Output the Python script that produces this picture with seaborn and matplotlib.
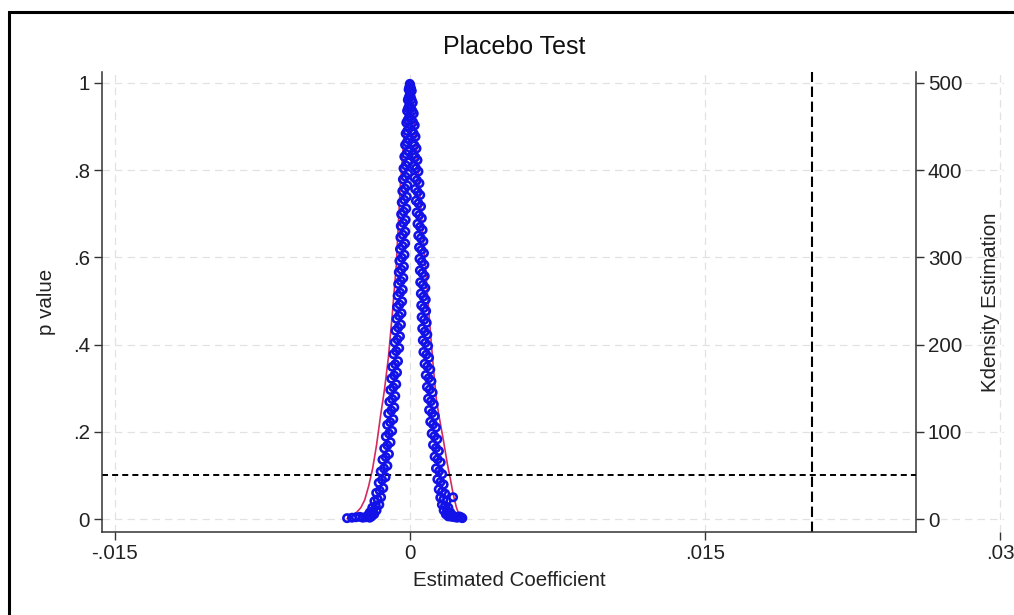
import matplotlib
matplotlib.use("Agg")
import matplotlib.pyplot as plt
import seaborn as sns
from matplotlib.patches import Rectangle

# ---------------- data (coefficients given in units of 1e-3) ----------------
left_p = [0.998, 0.985, 0.972, 0.961, 0.948, 0.936, 0.921, 0.909, 0.897, 0.884,
          0.870, 0.858, 0.843, 0.831, 0.818, 0.804, 0.792, 0.779, 0.765, 0.752,
          0.739, 0.726, 0.712, 0.699, 0.686, 0.672, 0.659, 0.646, 0.632, 0.619,
          0.606, 0.592, 0.579, 0.566, 0.553, 0.539, 0.526, 0.512, 0.499, 0.486,
          0.472, 0.459, 0.446, 0.432, 0.419, 0.405, 0.392, 0.378, 0.362, 0.349,
          0.336, 0.322, 0.309, 0.296, 0.282, 0.269, 0.256, 0.242, 0.229, 0.216,
          0.202, 0.189, 0.176, 0.162, 0.149, 0.136, 0.122, 0.109, 0.096, 0.083,
          0.071, 0.060, 0.050, 0.041, 0.033, 0.026, 0.020, 0.015, 0.011, 0.008,
          0.006, 0.004, 0.003, 0.003, 0.005, 0.004, 0.003, 0.002]
left_coef_milli = [-0.01, -0.07, -0.02, -0.11, -0.04, -0.15, -0.05, -0.19, -0.06, -0.22,
                   -0.06, -0.25, -0.08, -0.29, -0.09, -0.33, -0.10, -0.36, -0.13, -0.39,
                   -0.16, -0.42, -0.19, -0.45, -0.22, -0.47, -0.24, -0.49, -0.25, -0.51,
                   -0.28, -0.54, -0.31, -0.57, -0.34, -0.60, -0.37, -0.63, -0.40, -0.66,
                   -0.43, -0.69, -0.46, -0.74, -0.51, -0.78, -0.55, -0.84, -0.61, -0.90,
                   -0.66, -0.95, -0.70, -1.00, -0.75, -1.05, -0.80, -1.11, -0.85, -1.16,
                   -0.91, -1.23, -0.99, -1.31, -1.07, -1.40, -1.15, -1.49, -1.24, -1.59,
                   -1.36, -1.72, -1.47, -1.81, -1.56, -1.92, -1.70, -2.05, -1.82, -2.15,
                   -1.95, -2.25, -2.05, -2.40, -2.55, -2.75, -2.95, -3.20]
left_mid_p = [0.990, 0.966, 0.942, 0.915, 0.890, 0.864, 0.837, 0.811, 0.785, 0.758,
              0.732, 0.705, 0.679, 0.652, 0.626, 0.599, 0.572, 0.546, 0.519, 0.492,
              0.466, 0.439, 0.412, 0.385, 0.355, 0.329, 0.302, 0.275, 0.249, 0.222,
              0.196, 0.169, 0.142, 0.116, 0.090, 0.065, 0.045, 0.030, 0.018, 0.010,
              0.005]
left_mid_coef_milli = [-0.04, -0.07, -0.10, -0.12, -0.14, -0.16, -0.19, -0.21, -0.23, -0.26,
                       -0.29, -0.32, -0.34, -0.36, -0.38, -0.41, -0.44, -0.47, -0.50, -0.53,
                       -0.56, -0.60, -0.64, -0.70, -0.75, -0.80, -0.85, -0.90, -0.95, -1.01,
                       -1.07, -1.15, -1.23, -1.32, -1.42, -1.54, -1.64, -1.74, -1.88, -2.02,
                       -2.15]

right_p = [0.995, 0.982, 0.969, 0.955, 0.942, 0.930, 0.916, 0.903, 0.890, 0.877,
           0.863, 0.850, 0.837, 0.823, 0.810, 0.797, 0.783, 0.770, 0.757, 0.743,
           0.730, 0.717, 0.703, 0.690, 0.677, 0.663, 0.650, 0.637, 0.623, 0.610,
           0.597, 0.583, 0.570, 0.557, 0.543, 0.530, 0.517, 0.503, 0.490, 0.477,
           0.463, 0.450, 0.437, 0.423, 0.410, 0.397, 0.383, 0.370, 0.356, 0.343,
           0.330, 0.316, 0.303, 0.290, 0.276, 0.263, 0.250, 0.236, 0.223, 0.210,
           0.196, 0.183, 0.170, 0.156, 0.143, 0.130, 0.116, 0.103, 0.091, 0.079,
           0.068, 0.058, 0.049, 0.050, 0.041, 0.033, 0.026, 0.020, 0.015, 0.011,
           0.008, 0.006, 0.004, 0.003, 0.006, 0.004, 0.002]
right_coef_milli = [0.01, 0.09, 0.03, 0.14, 0.05, 0.19, 0.07, 0.24, 0.09, 0.28,
                    0.12, 0.33, 0.15, 0.38, 0.19, 0.43, 0.22, 0.48, 0.26, 0.52,
                    0.30, 0.56, 0.34, 0.60, 0.38, 0.64, 0.42, 0.68, 0.46, 0.71,
                    0.48, 0.73, 0.50, 0.75, 0.52, 0.78, 0.55, 0.80, 0.57, 0.82,
                    0.59, 0.85, 0.62, 0.88, 0.65, 0.92, 0.68, 0.97, 0.74, 1.03,
                    0.80, 1.09, 0.86, 1.15, 0.92, 1.21, 0.97, 1.26, 1.03, 1.32,
                    1.10, 1.39, 1.17, 1.47, 1.25, 1.56, 1.32, 1.64, 1.39, 1.71,
                    1.46, 1.79, 1.54, 2.19, 1.86, 1.62, 1.95, 1.71, 2.05, 1.82,
                    2.18, 1.95, 2.28, 2.40, 2.50, 2.60, 2.66]
right_mid_p = [0.988, 0.962, 0.936, 0.910, 0.884, 0.857, 0.830, 0.804, 0.777, 0.750,
               0.724, 0.697, 0.670, 0.644, 0.617, 0.590, 0.564, 0.537, 0.510, 0.484,
               0.457, 0.430, 0.404, 0.377, 0.350, 0.323, 0.297, 0.270, 0.243, 0.217,
               0.190, 0.163, 0.137, 0.110, 0.085, 0.063, 0.045, 0.030, 0.018, 0.010,
               0.005]
right_mid_coef_milli = [0.05, 0.08, 0.12, 0.16, 0.19, 0.23, 0.27, 0.31, 0.35, 0.39,
                        0.43, 0.47, 0.51, 0.55, 0.58, 0.60, 0.63, 0.65, 0.68, 0.70,
                        0.72, 0.75, 0.78, 0.83, 0.88, 0.95, 1.00, 1.06, 1.12, 1.17,
                        1.24, 1.32, 1.40, 1.48, 1.55, 1.63, 1.70, 1.78, 1.88, 2.00,
                        2.12]

kde_coef_milli = [-3.2, -3.05, -2.9, -2.7, -2.5, -2.3, -2.1, -1.9, -1.7, -1.5,
                  -1.3, -1.1, -0.9, -0.7, -0.5, -0.3, -0.15, 0.0, 0.15, 0.3,
                  0.45, 0.6, 0.75, 0.9, 1.05, 1.2, 1.35, 1.5, 1.7, 1.9,
                  2.05, 2.2, 2.35, 2.5, 2.6]
kde_density = [0.5, 2, 4, 8, 13, 22, 38, 58, 85, 118,
               148, 185, 235, 290, 380, 440, 475, 488, 470, 430,
               390, 340, 300, 255, 210, 170, 135, 115, 90, 63,
               46, 28, 14, 4, 1]

true_coef = 0.02044
p_threshold = 0.1

x_ticks = [-0.015, 0.0, 0.015, 0.03]
x_tick_labels = ["-.015", "0", ".015", ".03"]
y_ticks = [0, 0.2, 0.4, 0.6, 0.8, 1.0]
y_tick_labels = ["0", ".2", ".4", ".6", ".8", "1"]
y2_ticks = [0, 100, 200, 300, 400, 500]
y2_tick_labels = ["0", "100", "200", "300", "400", "500"]

# ---------------- style ----------------
sns.set_theme(style="white")
plt.rcParams["font.family"] = ["Liberation Sans", "DejaVu Sans"]

BLUE = "#1212e8"
RED = "#d42a60"
GRID = "#e2e2e2"
FS = 14.8

W, H = 1014, 615
fig = plt.figure(figsize=(W / 100, H / 100), dpi=100)
fig.patch.set_facecolor("white")

# plot region in pixels
x_left_px, x_right_px = 102, 1004
y_top_px, y_bot_px = 72, 532
ax = fig.add_axes([x_left_px / W, 1 - y_bot_px / H,
                   (x_right_px - x_left_px) / W, (y_bot_px - y_top_px) / H])
ax2 = ax.twinx()

xmin, xmax = -0.01566, 0.0302
x_axis_end = 0.02573
ymin, ymax = -0.0298, 1.0252

# layering: kdensity axis (ax2) below the scatter axis (ax)
ax2.set_zorder(1)
ax.set_zorder(2)
ax.patch.set_visible(False)
ax2.patch.set_visible(True)
ax2.patch.set_facecolor("white")

# ---------------- marks ----------------
all_coef = [c / 1000 for c in left_coef_milli + left_mid_coef_milli
            + right_coef_milli + right_mid_coef_milli]
all_p = left_p + left_mid_p + right_p + right_mid_p
kde_coef = [c / 1000 for c in kde_coef_milli]

sns.lineplot(x=kde_coef, y=kde_density, ax=ax2, color=RED, linewidth=1.2)

sns.scatterplot(x=all_coef, y=all_p, ax=ax,
                marker="o", s=28, facecolor="none", edgecolor=BLUE,
                linewidth=1.9, zorder=3)

ax.axhline(p_threshold, xmin=0, xmax=(x_axis_end - xmin) / (xmax - xmin),
           color="black", linewidth=1.4, linestyle=(0, (3.1, 2.1)), zorder=2)
ax.axvline(true_coef, color="black", linewidth=1.5, linestyle=(0, (5, 2.2)), zorder=2)

# ---------------- axes ----------------
ax.set_xlim(xmin, xmax)
ax.set_ylim(ymin, ymax)
ax2.set_ylim(ymin * 500, ymax * 500)

ax.set_xticks(x_ticks)
ax.set_xticklabels(x_tick_labels)
ax.set_yticks(y_ticks)
ax.set_yticklabels(y_tick_labels)
ax2.set_yticks(y2_ticks)
ax2.set_yticklabels(y2_tick_labels)

ax.grid(True, axis="x", color=GRID, linestyle=(0, (6, 4)), linewidth=0.9)
ax.grid(False, axis="y")
ax2.grid(True, axis="y", color=GRID, linestyle=(0, (6, 4)), linewidth=0.9)

for s in ["top", "right"]:
    ax.spines[s].set_visible(False)
for s in ["left", "bottom"]:
    ax.spines[s].set_color("#333333")
    ax.spines[s].set_linewidth(1.1)
ax.spines["bottom"].set_bounds(xmin, x_axis_end)

for s in ["top", "left", "bottom"]:
    ax2.spines[s].set_visible(False)
ax2.spines["right"].set_position(("data", x_axis_end))
ax2.spines["right"].set_color("#333333")
ax2.spines["right"].set_linewidth(1.1)

ax.tick_params(axis="both", which="both", bottom=True, left=True, top=False, right=False,
               direction="out", length=5.5, width=1, color="#333333",
               labelsize=FS, labelcolor="#222222", pad=3)
ax2.tick_params(axis="y", right=True, left=False, direction="out", length=5.5,
                width=1, color="#333333", labelsize=FS, labelcolor="#222222", pad=3)
for lbl in ax2.get_yticklabels():
    lbl.set_bbox(dict(facecolor="white", edgecolor="none", pad=1.0))

ax.set_xlabel("Estimated Coefficient", fontsize=FS, color="#222222", va="center")
ax.xaxis.set_label_coords((509 - x_left_px) / (x_right_px - x_left_px),
                          -(581 - y_bot_px) / (y_bot_px - y_top_px))
ax.set_ylabel("p value", fontsize=FS, color="#222222", va="center")
ax.yaxis.set_label_coords(-(x_left_px - 46) / (x_right_px - x_left_px), 0.5)
ax2.set_ylabel("Kdensity Estimation", fontsize=FS, color="#222222", va="center",
               rotation=90)
ax2.yaxis.set_label_coords((991 - x_left_px) / (x_right_px - x_left_px), 0.5)

fig.text(514 / W, 1 - 47 / H, "Placebo Test", ha="center", va="center",
         fontsize=18, color="#111111")

# outer frame (left and top edges visible, as in the source export)
fig.patches.append(Rectangle((9 / W, -0.2), 1.5, (1 - 12 / H) + 0.2,
                             transform=fig.transFigure, fill=False,
                             edgecolor="black", linewidth=2.2))

fig.savefig("out.png", dpi=100)
